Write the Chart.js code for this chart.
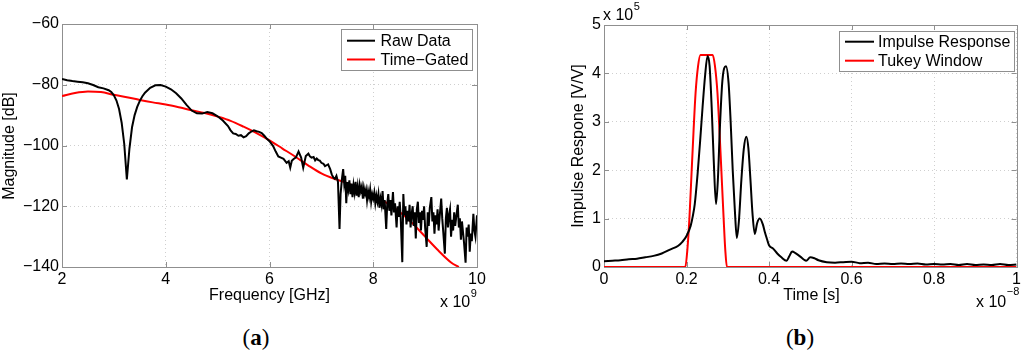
<!DOCTYPE html>
<html><head><meta charset="utf-8">
<script src="https://cdn.jsdelivr.net/npm/chart.js@4.4.0/dist/chart.umd.min.js"></script>
<style>
html,body{margin:0;padding:0;background:#fff;width:1024px;height:357px;overflow:hidden;}
#wa{position:absolute;left:0;top:0;width:512px;height:310px;}
#wb{position:absolute;left:512px;top:0;width:512px;height:310px;}
.cap{position:absolute;top:323px;width:60px;text-align:center;font-family:"Liberation Serif","DejaVu Serif",serif;font-size:23px;line-height:30px;color:#000;}
</style></head><body>
<div id="wa"><canvas id="ca"></canvas></div>
<div id="wb"><canvas id="cb"></canvas></div>
<div class="cap" style="left:226px">(<b>a</b>)</div>
<div class="cap" style="left:770px">(<b>b</b>)</div>
<script>
// ---------- DATA (a) ----------
const freqRaw = [2.00,2.10,2.20,2.30,2.40,2.50,2.60,2.70,2.80,2.90,2.95,3.00,3.05,3.10,3.15,3.20,3.25,3.30,3.35,3.40,3.45,3.50,3.55,3.60,3.70,3.80,3.90,4.00,4.10,4.20,4.30,4.40,4.50,4.60,4.70,4.80,4.90,5.00,5.10,5.20,5.25,5.30,5.35,5.40,5.45,5.50,5.55,5.60,5.65,5.70,5.75,5.80,5.85,5.90,5.95,6.00,
6.07,6.12,6.17,6.22,6.27,6.33,6.37,6.40,6.43,6.46,6.51,6.56,6.61,6.65,6.70,6.75,6.78,6.81,6.85,6.88,6.91,6.94,6.97,7.00,7.04,7.07,7.10,7.13,7.17,7.20,
7.23,7.26,7.29,7.32,7.35,7.37,7.40,7.42,7.44,7.46,7.48,7.50,7.52,7.54,7.56,7.58,7.60,7.62,7.64,7.66,7.68,7.70,7.72,7.74,7.76,7.78,7.80,7.82,7.84,7.86,7.88,7.90,7.92,7.94,7.96,7.98,
8.00,8.02,8.04,8.06,8.08,8.10,8.12,8.14,8.16,8.18,8.20,8.22,8.25,8.27,8.29,8.31,8.33,8.35,8.38,8.40,8.42,8.45,8.47,8.49,8.51,8.53,8.56,8.58,8.60,8.62,8.64,8.66,8.68,8.70,8.72,8.74,8.76,8.78,8.80,8.82,8.84,8.86,8.88,8.90,8.92,8.94,8.96,8.98,
9.00,9.03,9.05,9.07,9.09,9.12,9.14,9.16,9.18,9.20,9.22,9.24,9.26,9.28,9.31,9.33,9.35,9.38,9.40,9.42,9.44,9.46,9.48,9.50,9.52,9.54,9.56,9.58,9.60,9.63,9.65,9.67,9.69,9.71,9.73,9.75,9.78,9.80,9.82,9.84,9.86,9.88,9.90,9.93,9.95,9.97,10.00];
const magRaw = [-78.1,-78.5,-78.8,-79.0,-79.2,-79.5,-80.1,-80.8,-81.2,-81.8,-82.4,-83.5,-85.2,-88.0,-92.5,-99.5,-111.2,-101.0,-94.0,-90.0,-87.3,-85.3,-83.8,-82.6,-81.0,-80.2,-80.1,-80.6,-81.5,-82.8,-84.5,-86.6,-88.5,-89.4,-89.5,-89.0,-89.4,-90.4,-91.8,-93.6,-95.0,-96.0,-96.2,-96.8,-96.6,-97.3,-96.9,-96.0,-95.4,-95.0,-95.3,-95.5,-95.9,-96.8,-97.8,-98.6,
-100.2,-102.0,-103.6,-104.0,-104.4,-105.7,-105.2,-107.3,-105.0,-104.5,-103.9,-102.0,-104.0,-107.3,-103.5,-102.7,-103.6,-104.0,-103.8,-104.9,-104.3,-104.8,-105.0,-105.7,-106.0,-106.8,-106.5,-106.2,-107.8,-109.5,
-110.5,-111.0,-110.0,-112.0,-127.5,-116.0,-110.5,-107.8,-112.5,-110.0,-119.0,-112.0,-114.5,-111.5,-116.0,-112.5,-117.0,-113.0,-115.5,-112.0,-116.5,-113.5,-117.0,-113.0,-115.0,-113.5,-117.5,-114.0,-116.0,-114.5,-118.0,-115.0,-117.0,-114.5,-118.5,-116.0,
-117.5,-115.5,-119.0,-116.5,-118.5,-116.0,-120.5,-117.5,-119.5,-115.0,-121.0,-118.0,-127.5,-119.0,-116.0,-121.5,-118.0,-123.0,-115.3,-122.0,-119.0,-127.0,-120.0,-123.5,-118.5,-124.0,-138.4,-116.0,-123.0,-120.0,-126.0,-121.5,-125.0,-119.5,-127.0,-122.5,-120.0,-126.5,-122.0,-130.6,-121.0,-118.5,-125.5,-122.0,-128.0,-121.5,-124.5,-120.0,
-127.0,-133.4,-122.0,-126.5,-120.5,-117.0,-125.0,-122.0,-129.0,-123.0,-126.0,-121.0,-128.0,-123.5,-117.5,-124.0,-128.5,-135.6,-124.0,-120.5,-127.0,-123.0,-121.0,-130.0,-124.5,-128.0,-122.0,-126.5,-123.5,-119.5,-127.0,-124.0,-131.0,-125.0,-128.5,-132.0,-138.6,-127.0,-130.0,-126.0,-135.0,-129.0,-131.5,-122.5,-128.0,-130.0,-123.0];
const freqGated = [2.0,2.25,2.5,2.75,3.0,3.25,3.5,3.75,4.0,4.25,4.5,4.75,5.0,5.25,5.5,5.75,6.0,6.25,6.5,6.75,7.0,7.25,7.5,7.75,8.0,8.25,8.5,8.75,9.0,9.25,9.5,9.65];
const magGated  = [-83.7,-82.7,-82.2,-82.4,-83.3,-84.1,-85.0,-85.8,-86.5,-87.4,-88.4,-89.3,-90.5,-91.9,-93.8,-95.9,-98.3,-101.0,-103.7,-106.6,-109.2,-111.0,-112.4,-114.5,-116.6,-118.8,-121.7,-125.5,-130.0,-134.5,-138.5,-140.0];
const freqTicks = [2,4,6,8,10];
const magTicks = [-140,-120,-100,-80,-60];

// ---------- DATA (b) ----------
const timeImp = [0.00,0.02,0.04,0.06,0.08,0.10,0.12,0.14,0.16,0.18,0.19,0.20,0.21,0.215,0.22,0.227,0.233,0.239,0.245,0.251,0.256,0.261,0.266,0.2715,0.276,0.281,0.287,0.2956,0.302,0.307,0.312,0.317,0.322,0.327,0.333,0.339,0.345,0.350,0.355,0.360,0.3655,0.371,0.3775,0.385,0.390,0.395,0.40,0.41,0.42,0.43,0.4426,0.449,0.456,0.465,0.475,0.485,0.49,0.50,0.51,0.52,0.54,0.56,0.58,0.60,0.62,0.64,0.66,0.68,0.70,0.72,0.74,0.76,0.78,0.80,0.82,0.84,0.86,0.88,0.90,0.92,0.94,0.96,0.98,1.00];
const valImp = [0.12,0.13,0.14,0.16,0.17,0.20,0.23,0.28,0.36,0.44,0.52,0.64,0.85,1.04,1.30,1.94,2.60,3.31,3.95,4.36,4.15,3.30,2.20,1.30,1.80,2.90,3.85,4.15,3.80,3.00,2.00,1.20,0.60,0.95,1.80,2.45,2.69,2.45,1.80,1.10,0.68,0.90,1.00,0.88,0.72,0.58,0.45,0.38,0.28,0.20,0.13,0.22,0.32,0.28,0.22,0.15,0.13,0.20,0.18,0.14,0.10,0.09,0.10,0.11,0.08,0.09,0.06,0.07,0.06,0.07,0.06,0.07,0.05,0.06,0.05,0.06,0.04,0.06,0.04,0.05,0.04,0.06,0.04,0.05];
const timeWin = [0.0,0.197,0.202,0.207,0.212,0.217,0.222,0.228,0.2337,0.2635,0.269,0.275,0.280,0.285,0.290,0.294,0.298,1.0];
const valWin  = [0,0,0.35,1.0,1.9,2.8,3.6,4.15,4.38,4.38,4.15,3.6,2.8,1.9,1.0,0.35,0,0];
const timeTicks = [0,0.2,0.4,0.6,0.8,1];
const impTicks = [0,1,2,3,4,5];

// ---------- helpers ----------
const FONT = '"Liberation Sans", Arial, Helvetica, sans-serif';
const FS = 16;
const zip = (xs, ys) => xs.map((x, i) => ({x: x, y: ys[i]}));
const fmt = v => (v < 0 ? '\u2212' + Math.abs(v) : String(Math.round(v * 10) / 10));

function decorPlugin(d) {
  return {
    id: 'decor',
    beforeDatasetsDraw(chart) {
      const ctx = chart.ctx, a = chart.chartArea;
      const xs = chart.scales.x, ys = chart.scales.y;
      ctx.save();
      ctx.strokeStyle = '#8f8f8f';
      ctx.lineWidth = 1;
      ctx.beginPath();
      d.xt.forEach(v => { const p = Math.round(xs.getPixelForValue(v)) + 0.5;
        ctx.moveTo(p, a.bottom); ctx.lineTo(p, a.bottom - 5);
        ctx.moveTo(p, a.top); ctx.lineTo(p, a.top + 5); });
      d.yt.forEach(v => { const p = Math.round(ys.getPixelForValue(v)) + 0.5;
        ctx.moveTo(a.left, p); ctx.lineTo(a.left + 5, p);
        ctx.moveTo(a.right, p); ctx.lineTo(a.right - 5, p); });
      ctx.stroke();
      ctx.strokeRect(Math.round(a.left) + 0.5, Math.round(a.top) + 0.5, Math.round(a.right - a.left), Math.round(a.bottom - a.top));
      ctx.restore();
    },
    afterDatasetsDraw(chart) {
      const ctx = chart.ctx, L = d.legend;
      ctx.save();
      ctx.fillStyle = '#fff';
      ctx.fillRect(L.x, L.y, L.w, L.h);
      ctx.strokeStyle = '#8f8f8f'; ctx.lineWidth = 1;
      ctx.strokeRect(L.x + 0.5, L.y + 0.5, L.w, L.h);
      ctx.font = FS + 'px ' + FONT; ctx.textBaseline = 'middle'; ctx.textAlign = 'left';
      chart.data.datasets.forEach((ds, i) => {
        const y = L.rows[i];
        ctx.strokeStyle = ds.borderColor; ctx.lineWidth = 2;
        ctx.beginPath(); ctx.moveTo(L.l1, y); ctx.lineTo(L.l2, y); ctx.stroke();
        ctx.fillStyle = '#000';
        ctx.fillText(ds.label, L.tx, y + 1);
      });
      ctx.restore();
    },
    afterDraw(chart) {
      const ctx = chart.ctx;
      ctx.save();
      ctx.fillStyle = '#000';
      ctx.font = FS + 'px ' + FONT; ctx.textBaseline = 'middle'; ctx.textAlign = 'center';
      ctx.fillText(d.xTitle, d.xTitlePos[0], d.xTitlePos[1]);
      ctx.save();
      ctx.translate(d.yTitlePos[0], d.yTitlePos[1]);
      ctx.rotate(-Math.PI / 2);
      ctx.fillText(d.yTitle, 0, 0);
      ctx.restore();
      d.mult.forEach(m => {
        ctx.font = FS + 'px ' + FONT; ctx.textAlign = 'left';
        ctx.fillText('x 10', m.x, m.y);
        const w = ctx.measureText('x 10').width;
        ctx.font = '11px ' + FONT;
        ctx.fillText(m.sup, m.x + w + 0.5, m.sy);
      });
      ctx.restore();
    }
  };
}

function makeChart(id, datasets, sc, pad, yW, d) {
  return new Chart(document.getElementById(id), {
    type: 'line',
    data: { datasets: datasets },
    options: {
      responsive: true, maintainAspectRatio: false, animation: false, events: [],
      layout: { padding: pad },
      plugins: { legend: { display: false }, tooltip: { enabled: false } },
      elements: { point: { radius: 0 }, line: { borderWidth: 2, cubicInterpolationMode: 'monotone' } },
      scales: {
        x: { type: 'linear', min: sc.xmin, max: sc.xmax,
          afterBuildTicks: s => { s.ticks = d.xt.map(v => ({ value: v })); },
          afterFit: s => { s.height = 43; },
          ticks: { autoSkip: false, maxRotation: 0, padding: 3, color: '#000', font: { size: FS, family: FONT }, callback: v => fmt(v) },
          grid: { color: '#cfcfcf', lineWidth: 1, drawTicks: false },
          border: { display: false, dash: [1, 3] } },
        y: { type: 'linear', min: sc.ymin, max: sc.ymax,
          afterBuildTicks: s => { s.ticks = d.yt.map(v => ({ value: v })); },
          afterFit: s => { s.width = yW; },
          ticks: { autoSkip: false, padding: 3, color: '#000', font: { size: FS, family: FONT }, callback: v => fmt(v) },
          grid: { color: '#cfcfcf', lineWidth: 1, drawTicks: false },
          border: { display: false, dash: [1, 3] } }
      }
    },
    plugins: [decorPlugin(d)]
  });
}

makeChart('ca', [
  { label: 'Raw Data', data: zip(freqRaw, magRaw), borderColor: '#000000', cubicInterpolationMode: 'default', tension: 0 },
  { label: 'Time\u2212Gated', data: zip(freqGated, magGated), borderColor: '#ff0000' }
], { xmin: 2, xmax: 10, ymin: -140, ymax: -60 }, { left: 0, top: 24, right: 35, bottom: 0 }, 62, {
  xt: freqTicks, yt: magTicks,
  xTitle: 'Frequency [GHz]', xTitlePos: [269.5, 296],
  yTitle: 'Magnitude [dB]', yTitlePos: [10, 146],
  mult: [{ x: 440, y: 303, sup: '9', sy: 294 }],
  legend: { x: 341, y: 29, w: 131, h: 41, l1: 347, l2: 375, tx: 380.5, rows: [40.7, 59.5] }
});

makeChart('cb', [
  { label: 'Impulse Response', data: zip(timeImp, valImp), borderColor: '#000000' },
  { label: 'Tukey Window', data: zip(timeWin, valWin), borderColor: '#ff0000' }
], { xmin: 0, xmax: 1, ymin: 0, ymax: 5 }, { left: 0, top: 25, right: 5, bottom: 0 }, 92, {
  xt: timeTicks, yt: impTicks,
  xTitle: 'Time [s]', xTitlePos: [299.5, 296],
  yTitle: 'Impulse Respone [V/V]', yTitlePos: [67, 146],
  mult: [{ x: 464, y: 303, sup: '\u22128', sy: 292 }, { x: 91, y: 16, sup: '5', sy: 7 }],
  legend: { x: 327, y: 31, w: 175, h: 40, l1: 333, l2: 362, tx: 366, rows: [41.7, 60.7] }
});
</script>
</body></html>
